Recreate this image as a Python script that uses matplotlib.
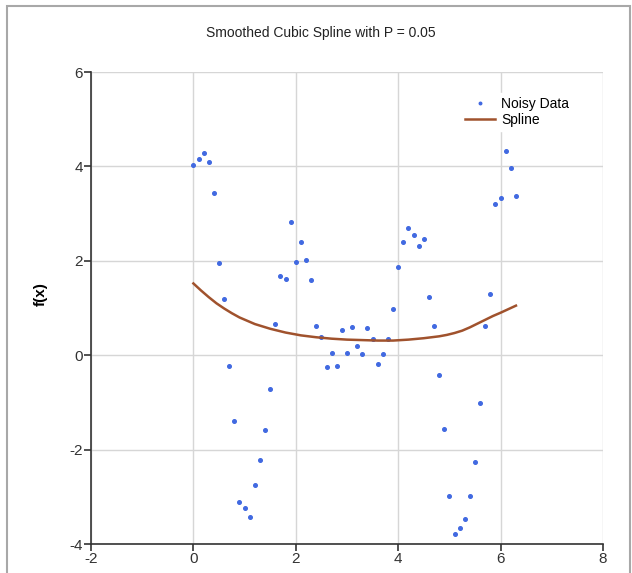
import matplotlib
matplotlib.use("Agg")
import matplotlib.pyplot as plt
from matplotlib.patches import Rectangle

# noisy samples
x_data = [0.0, 0.1, 0.2, 0.3, 0.4, 0.5, 0.6, 0.7, 0.8, 0.9,
          1.0, 1.1, 1.2, 1.3, 1.4, 1.5, 1.6, 1.7, 1.8, 1.9,
          2.0, 2.1, 2.2, 2.3, 2.4, 2.5, 2.6, 2.7, 2.8, 2.9,
          3.0, 3.1, 3.2, 3.3, 3.4, 3.5, 3.6, 3.7, 3.8, 3.9,
          4.0, 4.1, 4.2, 4.3, 4.4, 4.5, 4.6, 4.7, 4.8, 4.9,
          5.0, 5.1, 5.2, 5.3, 5.4, 5.5, 5.6, 5.7, 5.8, 5.9,
          6.0, 6.1, 6.2, 6.3]
y_data = [4.02, 4.15, 4.29, 4.10, 3.43, 1.96, 1.20, -0.23, -1.39, -3.12,
          -3.23, -3.43, -2.75, -2.21, -1.58, -0.71, 0.67, 1.67, 1.62, 2.83,
          1.97, 2.40, 2.02, 1.60, 0.62, 0.39, -0.25, 0.04, -0.22, 0.53,
          0.05, 0.59, 0.19, 0.03, 0.58, 0.34, -0.18, 0.03, 0.34, 0.98,
          1.87, 2.39, 2.70, 2.54, 2.31, 2.46, 1.24, 0.62, -0.42, -1.56,
          -2.98, -3.79, -3.67, -3.47, -2.98, -2.27, -1.02, 0.61, 1.29, 3.20,
          3.34, 4.33, 3.96, 3.37]

# smoothed spline curve as drawn
x_spline = [0.0, 0.15, 0.3, 0.45, 0.6, 0.75, 0.9, 1.05, 1.2, 1.35, 1.5,
            1.65, 1.8, 1.95, 2.1, 2.25, 2.4, 2.55, 2.7, 2.85, 3.0,
            3.15, 3.3, 3.45, 3.6, 3.75, 3.9, 4.05, 4.2, 4.35, 4.5,
            4.65, 4.8, 4.95, 5.1, 5.25, 5.4, 5.55, 5.7, 5.85, 6.0,
            6.15, 6.3]
y_spline = [1.52, 1.37, 1.23, 1.10, 0.99, 0.89, 0.80, 0.73, 0.66, 0.61, 0.56,
            0.52, 0.48, 0.45, 0.42, 0.40, 0.38, 0.365, 0.35, 0.34, 0.33,
            0.325, 0.32, 0.315, 0.31, 0.31, 0.31, 0.32, 0.33, 0.345, 0.36,
            0.38, 0.40, 0.43, 0.47, 0.52, 0.59, 0.67, 0.75, 0.83, 0.90,
            0.975, 1.05]

x_ticks = [-2, 0, 2, 4, 6, 8]
y_ticks = [-4, -2, 0, 2, 4, 6]

plt.rcParams['font.family'] = ['Liberation Sans', 'DejaVu Sans']
plt.rcParams['axes.unicode_minus'] = False

fig = plt.figure(figsize=(6.32, 5.73), dpi=100)
W, H = 632, 573

# outer frame like the windows chart control
fig.patches.append(Rectangle((7 / W, -0.01), 623 / W, 1 - 6 / H + 0.01,
                             transform=fig.transFigure, fill=False,
                             edgecolor='#a8a8a8', linewidth=1.5))

ax = fig.add_axes([91 / W, 1 - 544 / H, 512 / W, 472 / H])
ax.set_xlim(-2, 8)
ax.set_ylim(-4, 6)
ax.set_xticks(x_ticks)
ax.set_yticks(y_ticks)
ax.grid(True, color='#d6d6d6', linewidth=1)
ax.set_axisbelow(True)
for side in ['top', 'right']:
    ax.spines[side].set_visible(False)
for side in ['left', 'bottom']:
    ax.spines[side].set_color('#333333')
    ax.spines[side].set_linewidth(1.2)
ax.tick_params(length=5, width=1.2, color='#333333', labelsize=11,
               labelcolor='#333333', pad=1)

ax.plot(x_data, y_data, linestyle='none', marker='o', markersize=2.6,
        color='#4169e1', label='Noisy Data', clip_on=False)
ax.plot(x_spline, y_spline, color='#a0522d', linewidth=1.8, label='Spline',
        solid_joinstyle='round')

ax.set_ylabel('f(x)', fontsize=11, fontweight='bold')
ax.yaxis.set_label_coords(-43 / 512, 0.53)

leg = ax.legend(loc='upper right', bbox_to_anchor=(0.955, 0.97), frameon=True,
                fontsize=10, handlelength=2.2, handletextpad=0.4,
                labelspacing=0.1, borderpad=0.3, markerscale=0.7)
leg.get_frame().set_edgecolor('white')
leg.get_frame().set_facecolor('white')
leg.get_frame().set_alpha(1)

fig.text(321 / W, 1 - 33 / H, 'Smoothed Cubic Spline with P = 0.05',
         ha='center', va='center', fontsize=10, color='#222222')

fig.savefig('out.png', dpi=100)
